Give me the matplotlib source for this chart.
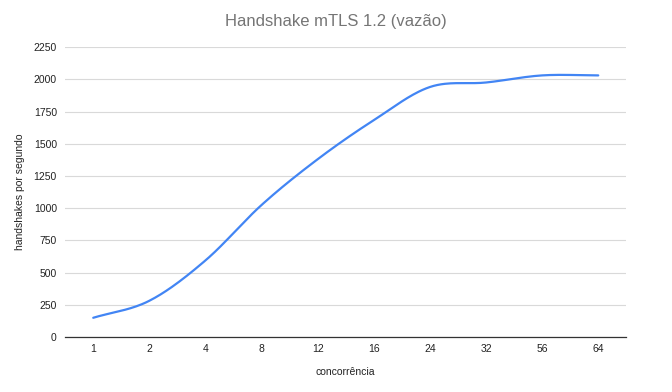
import numpy as np
import matplotlib.pyplot as plt

# === Data ===
categories = ["1", "2", "4", "8", "12", "16", "24", "32", "56", "64"]
handshakes = [150, 282, 595, 1025, 1380, 1683, 1940, 1975, 2030, 2030]
y_ticks = [0, 250, 500, 750, 1000, 1250, 1500, 1750, 2000, 2250]

plt.rcParams['font.family'] = ['Liberation Sans', 'DejaVu Sans']


def smooth(x, y, n=30):
    # cubic Hermite curve through the points (Catmull-Rom style tangents)
    x = np.asarray(x, float)
    y = np.asarray(y, float)
    m = np.gradient(y, x)
    xs, ys = [], []
    for i in range(len(x) - 1):
        t = np.linspace(0, 1, n, endpoint=False)
        h = x[i + 1] - x[i]
        h00 = 2 * t**3 - 3 * t**2 + 1
        h10 = t**3 - 2 * t**2 + t
        h01 = -2 * t**3 + 3 * t**2
        h11 = t**3 - t**2
        xs.append(x[i] + t * h)
        ys.append(h00 * y[i] + h10 * h * m[i] + h01 * y[i + 1] + h11 * h * m[i + 1])
    xs.append([x[-1]])
    ys.append([y[-1]])
    return np.concatenate(xs), np.concatenate(ys)


xpos = np.arange(len(categories))
sx, sy = smooth(xpos, handshakes)

fig = plt.figure(figsize=(6.72, 3.92), dpi=100)
ax = fig.add_axes([0.097, 0.140, 0.835, 0.740])

ax.plot(sx, sy, color='#4285F4', linewidth=1.6, solid_capstyle='round')

ax.set_xlim(-0.5, len(categories) - 0.5)
ax.set_ylim(0, 2250)
ax.set_yticks(y_ticks)
ax.set_xticks(xpos)
ax.set_xticklabels(categories)
ax.tick_params(axis='both', length=0, labelsize=7.5, colors='#222222')
ax.tick_params(axis='x', pad=5)
ax.tick_params(axis='y', pad=6)
ax.grid(axis='y', color='#d9d9d9', linewidth=0.8)
ax.set_axisbelow(True)
for side in ['top', 'right', 'left']:
    ax.spines[side].set_visible(False)
ax.spines['bottom'].set_color('#333333')
ax.spines['bottom'].set_linewidth(0.9)

ax.set_xlabel("concorrência", fontsize=7.5, color='#222222', labelpad=9)
ax.set_ylabel("handshakes por segundo", fontsize=7.5, color='#222222', labelpad=6)
fig.text(0.5, 0.945, "Handshake mTLS 1.2 (vazão)", ha='center', va='center',
         fontsize=12, color='#757575')

fig.savefig("out.png", dpi=100, facecolor='white')
